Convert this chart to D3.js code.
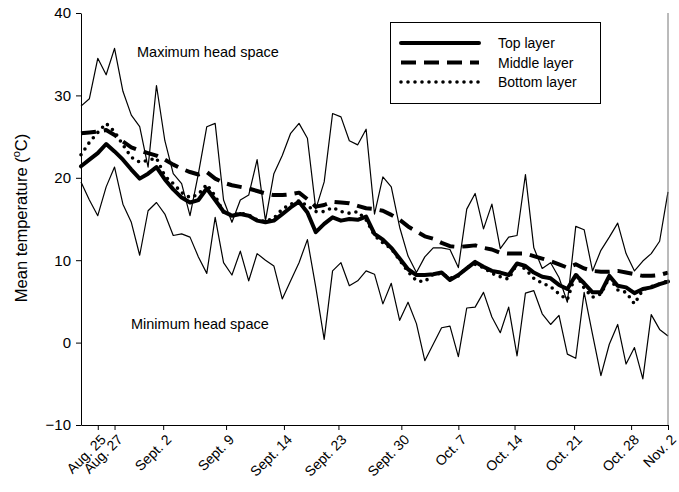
<!DOCTYPE html>
<html>
<head>
<meta charset="utf-8">
<script src="https://cdn.jsdelivr.net/npm/d3@7/dist/d3.min.js"></script>
<style>
  html, body { margin: 0; padding: 0; background: #fff; }
  svg { display: block; font-family: "Liberation Sans", Arial, sans-serif; }
</style>
</head>
<body>
<svg id="chart" width="679" height="492"></svg>
<script>
// Daily head-space and layer temperatures (°C), one value per observation day
const maxHead = [28.7,29.6,34.5,32.5,35.7,30.5,27.6,26.2,21.3,31.2,
  24.5,20.5,19.3,15.4,20.5,26.2,26.6,17.3,14.6,17.3,
  17.9,22.2,14.8,20.5,22.7,25.4,26.6,24.8,16.2,19.5,
  27.8,27.4,24.5,24.0,25.9,15.6,20.1,18.9,14.0,10.5,
  8.5,10.4,11.5,11.5,11.3,9.1,16.2,18.1,13.8,16.8,
  11.4,12.8,13.0,20.4,11.5,9.0,9.7,7.9,4.9,14.1,
  13.7,8.7,11.2,12.8,14.5,10.8,8.7,9.9,10.8,12.3,18.3];

const minHead = [19.5,17.3,15.4,18.9,21.3,16.8,14.6,10.6,16.0,17.0,
  15.6,13.0,13.2,12.8,10.4,8.4,15.2,9.7,8.2,11.1,
  7.5,10.8,10.0,9.3,5.3,7.5,9.7,12.5,6.7,0.4,
  8.7,9.7,6.9,7.5,8.7,8.3,4.7,7.2,2.7,4.9,
  2.3,-2.2,-0.2,1.8,2.0,-1.7,4.2,4.3,6.1,3.1,
  1.2,4.3,-1.6,6.0,6.3,3.5,2.2,3.3,-1.4,-1.9,
  6.1,1.0,-4.0,-0.2,2.2,-2.6,-0.6,-4.4,3.4,1.6,0.8];

const topLayer = [21.4,22.2,23.0,24.1,23.2,22.2,21.0,19.9,20.5,21.3,
  19.8,18.6,17.6,17.0,17.3,18.7,17.3,15.9,15.4,15.6,
  15.4,14.8,14.6,14.8,15.6,16.4,17.1,15.8,13.4,14.4,
  15.2,14.8,15.0,14.9,15.3,13.2,12.5,11.5,10.2,8.9,
  8.2,8.2,8.3,8.5,7.6,8.2,9.0,9.8,9.2,8.7,
  8.5,8.2,9.6,9.3,8.5,8.0,7.8,7.0,6.5,8.2,
  7.2,6.1,6.1,8.1,6.9,6.7,6.0,6.5,6.7,7.1,7.4];

const middleLayer = [25.4,25.5,25.6,25.8,25.2,24.4,23.7,23.3,23.0,22.7,
  22.2,21.6,21.1,20.7,20.4,20.7,19.9,19.4,19.1,18.9,
  18.7,18.4,18.1,17.9,17.9,18.0,18.2,17.4,16.5,16.7,
  17.1,17.0,16.9,16.6,16.3,16.2,16.0,15.5,14.9,14.1,
  13.5,12.9,12.6,12.1,11.7,11.6,11.7,11.8,11.5,11.3,
  10.9,10.8,10.8,10.8,10.5,10.2,9.9,9.5,9.1,9.5,
  9.0,8.7,8.6,8.6,8.7,8.5,8.3,8.1,8.1,8.2,8.5];

const bottomLayer = [22.8,24.3,25.5,26.6,25.6,24.0,22.5,21.9,22.1,22.4,
  20.2,19.3,18.2,17.6,18.0,19.2,17.8,15.8,15.5,15.7,
  15.5,14.9,14.7,15.1,16.2,16.8,17.2,16.6,15.9,15.9,
  16.4,15.9,15.7,15.9,14.9,13.0,12.1,11.4,10.0,8.6,
  7.5,7.4,8.3,8.4,7.8,8.1,9.1,9.5,9.1,8.4,
  8.0,7.7,9.6,8.9,7.8,7.2,6.8,5.9,5.2,8.4,
  6.6,5.5,5.9,7.9,6.4,6.1,4.7,6.4,6.8,7.1,7.5];

// Date labels and the observation index each one sits at
const tickLabels = ["Aug. 25","Aug. 27","Sept. 2","Sept. 9","Sept. 14","Sept. 23",
  "Sept. 30","Oct. 7","Oct. 14","Oct. 21","Oct. 28","Nov. 2"];
const tickPos = [2, 4, 9.8, 17.3, 24.2, 30.7, 38.2, 45, 51.7, 58.8, 65.6, 70];

const yTicks = [-10, 0, 10, 20, 30, 40];

const legendItems = [
  { label: "Top layer", data: topLayer, cls: "solid" },
  { label: "Middle layer", data: middleLayer, cls: "dashed" },
  { label: "Bottom layer", data: bottomLayer, cls: "dotted" }
];

const svg = d3.select("#chart");

const x = d3.scaleLinear().domain([0, maxHead.length - 1]).range([81, 668]);
const y = d3.scaleLinear().domain([-10, 40]).range([425, 13]);

const line = d3.line()
  .x((d, i) => x(i))
  .y(d => y(d));

const styles = {
  thin:   { width: 1.2, dash: null, cap: "butt" },
  solid:  { width: 4, dash: null, cap: "round" },
  dashed: { width: 4, dash: "15,8", cap: "butt" },
  dotted: { width: 3.6, dash: "0,7", cap: "round" }
};

function styled(sel, key) {
  const s = styles[key];
  sel.attr("fill", "none")
    .attr("stroke", "#000")
    .attr("stroke-width", s.width)
    .attr("stroke-linecap", s.cap)
    .attr("stroke-linejoin", "round");
  if (s.dash) sel.attr("stroke-dasharray", s.dash);
  return sel;
}

// Head-space extremes
styled(svg.append("path").datum(maxHead).attr("d", line), "thin");
styled(svg.append("path").datum(minHead).attr("d", line), "thin");

// Layer means
styled(svg.append("path").datum(middleLayer).attr("d", line), "dashed");
styled(svg.append("path").datum(bottomLayer).attr("d", line), "dotted");
styled(svg.append("path").datum(topLayer).attr("d", line), "solid");

// Right frame edge
svg.append("line")
  .attr("x1", 668).attr("x2", 668)
  .attr("y1", y(40)).attr("y2", y(-10))
  .attr("stroke", "#777").attr("stroke-width", 1);

// Axes
const yAxis = svg.append("g")
  .attr("transform", "translate(81,0)")
  .call(d3.axisLeft(y).tickValues(yTicks).tickSize(5).tickPadding(5).tickSizeOuter(0));
yAxis.selectAll("text").attr("font-size", 15).attr("fill", "#000")
  .attr("font-family", "'Liberation Sans', Arial, sans-serif");
yAxis.select(".domain").attr("stroke", "#000");

const xAxis = svg.append("g")
  .attr("transform", `translate(0,${y(-10)})`)
  .call(d3.axisBottom(x).tickValues(tickPos)
    .tickFormat((d, i) => tickLabels[i]).tickSize(5).tickSizeOuter(0));
xAxis.select(".domain").attr("stroke", "#000");
xAxis.selectAll("text")
  .attr("font-size", 14)
  .attr("fill", "#000")
  .attr("font-family", "'Liberation Sans', Arial, sans-serif")
  .attr("text-anchor", "end")
  .attr("x", 0)
  .attr("y", 0)
  .attr("dx", 0)
  .attr("dy", "0.35em")
  .attr("transform", "translate(5,12) rotate(-45)");

// Axis title
const title = svg.append("text")
  .attr("transform", "translate(27,218) rotate(-90)")
  .attr("text-anchor", "middle")
  .attr("font-size", 16.5)
  .attr("fill", "#000");
title.append("tspan").text("Mean temperature (");
title.append("tspan").text("o").attr("font-size", 11).attr("dy", -7);
title.append("tspan").text("C)").attr("dy", 7);

// Annotations
svg.append("text").attr("x", 137).attr("y", 57)
  .attr("font-size", 14.5).text("Maximum head space");
svg.append("text").attr("x", 131).attr("y", 329)
  .attr("font-size", 14.5).text("Minimum head space");

// Legend
const lg = svg.append("g");
lg.append("rect")
  .attr("x", 390.5).attr("y", 22.5).attr("width", 210).attr("height", 81)
  .attr("fill", "#fff").attr("stroke", "#000").attr("stroke-width", 1);
legendItems.forEach((item, k) => {
  const cy = 43 + k * 19.5;
  styled(lg.append("line")
    .attr("x1", 401).attr("x2", 479).attr("y1", cy).attr("y2", cy), item.cls);
  lg.append("text")
    .attr("x", 498).attr("y", cy + 5)
    .attr("font-size", 14).text(item.label);
});
</script>
</body>
</html>
